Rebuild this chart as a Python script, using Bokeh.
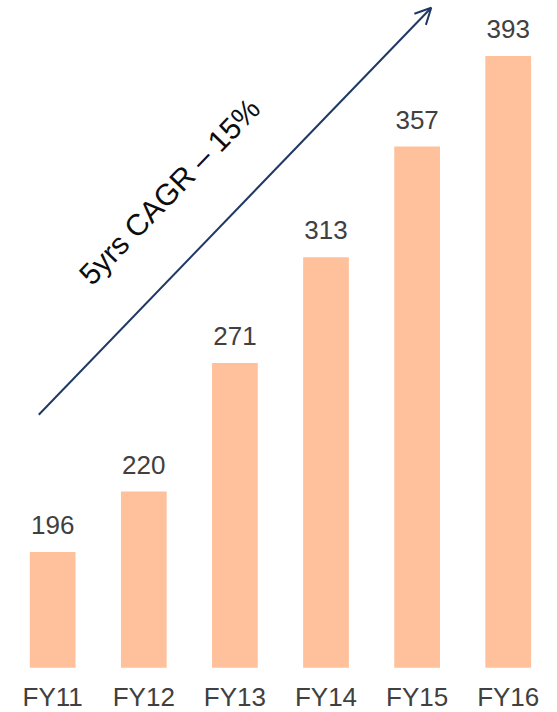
from bokeh.plotting import figure
from bokeh.models import ColumnDataSource, Range1d, Arrow, OpenHead, Label
from bokeh.core.properties import value
from bokeh.embed import file_html
from bokeh.resources import INLINE

# ---- data ----
categories = ["FY11", "FY12", "FY13", "FY14", "FY15", "FY16"]
revenue = [196, 220, 271, 313, 357, 393]
cagr_text = "5yrs CAGR \u2013 15%"
axis_floor = 150
# trend arrow, in data units (category index, value)
arrow_start = (-0.153, 250.5)
arrow_end = (4.155, 412.1)
cagr_pos = (1.282, 339.2)

BAR = "#FFC19B"
NAVY = "#1F3864"
GREY = "#404040"
FONT = "Liberation Sans"

idx = list(range(len(categories)))
src = ColumnDataSource(dict(
    x=idx,
    top=revenue,
    bottom=[axis_floor] * len(revenue),
    lab=[str(v) for v in revenue],
    cat=categories,
))

p = figure(width=557, height=712, output_backend="svg", toolbar_location=None,
           x_range=Range1d(-0.573, 5.541), y_range=Range1d(132.25, 415.0),
           min_border=0, min_border_left=0, min_border_right=0,
           min_border_top=0, min_border_bottom=0)
p.outline_line_color = None
p.background_fill_color = "white"
p.border_fill_color = "white"
p.xgrid.visible = False
p.ygrid.visible = False
p.xaxis.visible = False
p.yaxis.visible = False

p.vbar(x="x", top="top", bottom="bottom", width=0.502, source=src,
       fill_color=BAR, line_color=None)

# value labels
p.text(x="x", y="top", text="lab", source=src, text_align="center",
       text_baseline="alphabetic", y_offset=-27,
       text_font=value(FONT), text_font_size="26px", text_color=GREY)

# category labels
p.text(x="x", y="bottom", text="cat", source=src, text_align="center",
       text_baseline="alphabetic", y_offset=29.5,
       text_font=value(FONT), text_font_size="26px", text_color=GREY)

arrow = Arrow(x_start=arrow_start[0], y_start=arrow_start[1],
              x_end=arrow_end[0], y_end=arrow_end[1],
              line_color=NAVY, line_width=2,
              end=OpenHead(size=16, line_color=NAVY, line_width=2))
p.add_layout(arrow)

lab = Label(x=cagr_pos[0], y=cagr_pos[1], text=cagr_text,
            angle=46, angle_units="deg",
            text_align="center", text_baseline="middle",
            text_font=FONT, text_font_size="30px", text_color="#0D0D0D")
p.add_layout(lab)

open("out.html", "w").write(file_html(p, INLINE))
